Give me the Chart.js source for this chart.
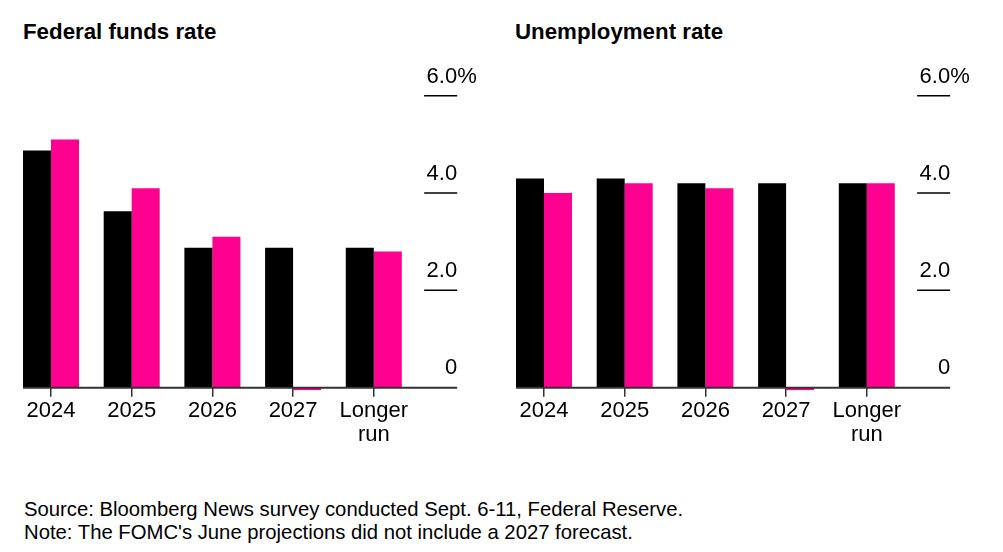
<!DOCTYPE html>
<html>
<head>
<meta charset="utf-8">
<script src="https://cdn.jsdelivr.net/npm/chart.js@4.4.1/dist/chart.umd.min.js"></script>
<style>
	body { margin: 0; background: #fff; font-family: "Liberation Sans", Arial, sans-serif; color: #000; }
	#page { position: relative; width: 1003px; height: 552px; overflow: hidden; }
	.title { position: absolute; top: 21px; font-weight: bold; font-size: 22.3px; line-height: 22px; }
	.panel { position: absolute; top: 60px; width: 490px; height: 400px; }
	#notes { position: absolute; left: 24px; top: 498px; font-size: 20.3px; line-height: 23px; }
</style>
</head>
<body>
<div id="page">
	<div class="title" style="left:23px">Federal funds rate</div>
	<div class="title" style="left:515px">Unemployment rate</div>
	<div class="panel" style="left:0"><canvas id="chart-fed" width="490" height="400"></canvas></div>
	<div class="panel" style="left:493px"><canvas id="chart-unemp" width="490" height="400"></canvas></div>
	<div id="notes">Source: Bloomberg News survey conducted Sept. 6-11, Federal Reserve.<br>Note: The FOMC's June projections did not include a 2027 forecast.</div>
</div>
<script>
// data
const CATEGORIES = ['2024', '2025', '2026', '2027', ['Longer', 'run']];
const FED_SURVEY = [4.875, 3.625, 2.875, 2.875, 2.875];
const FED_JUNE = [5.1, 4.1, 3.1, -0.05, 2.8];     // no 2027 in June -> tiny stub
const UNEMP_SURVEY = [4.3, 4.3, 4.2, 4.2, 4.2];
const UNEMP_JUNE = [4.0, 4.2, 4.1, -0.05, 4.2];
const Y_TICKS = [0, 2, 4, 6];
const Y_LABELS = ['0', '2.0', '4.0', '6.0'];
const Y_MIN = 0, Y_MAX = 6;

const BLACK = '#000000';
const PINK = '#ff0090';
const FONT = '"Liberation Sans", Arial, sans-serif';

// right-hand value labels with short rules, plus the baseline
const rightAxisPlugin = {
	id: 'rightAxis',
	afterDatasetsDraw(chart) {
		const { ctx, chartArea, scales: { y } } = chart;
		const x1 = chartArea.right + 10;
		const x2 = chartArea.right + 43;
		const first = chart.getDatasetMeta(0).data[0];
		const y0 = y.getPixelForValue(0);
		ctx.save();
		ctx.strokeStyle = '#333';
		ctx.lineWidth = 2;
		ctx.beginPath();
		ctx.moveTo(first.x - first.width / 2, y0);
		ctx.lineTo(x2, y0);
		ctx.stroke();

		ctx.font = `22px ${FONT}`;
		ctx.fillStyle = '#000';
		ctx.textBaseline = 'alphabetic';
		Y_TICKS.forEach((v, i) => {
			const py = y.getPixelForValue(v);
			if (v !== 0) {
				ctx.strokeStyle = '#000';
				ctx.lineWidth = 1.5;
				ctx.beginPath();
				ctx.moveTo(x1, py);
				ctx.lineTo(x2, py);
				ctx.stroke();
			}
			ctx.textAlign = 'right';
			ctx.fillText(Y_LABELS[i], x2, py - (v === 0 ? 14 : 13));
			if (i === Y_TICKS.length - 1) {
				ctx.textAlign = 'left';
				ctx.fillText('%', x2, py - 13);
			}
		});
		ctx.restore();
	}
};

function makeChart(id, survey, june) {
	return new Chart(document.getElementById(id), {
		type: 'bar',
		data: {
			labels: CATEGORIES,
			datasets: [
				{ label: 'Survey', data: survey, backgroundColor: BLACK, clip: false },
				{ label: 'June', data: june, backgroundColor: PINK, clip: false }
			]
		},
		options: {
			responsive: false,
			animation: false,
			layout: { padding: { left: 10.65, right: 75.85, top: 35.7, bottom: 2.3 } },
			datasets: { bar: { categoryPercentage: 0.694, barPercentage: 1 } },
			plugins: { legend: { display: false }, tooltip: { enabled: false } },
			scales: {
				x: {
					grid: { offset: false, drawOnChartArea: false, drawTicks: true, tickLength: 9, color: '#333', lineWidth: 1.5 },
					border: { display: false },
					ticks: { color: '#000', font: { family: FONT, size: 22, lineHeight: 1.1 }, padding: 2, maxRotation: 0, autoSkip: false },
					afterFit: (s) => { s.height = 70; }
				},
				y: { display: false, min: Y_MIN, max: Y_MAX }
			}
		},
		plugins: [rightAxisPlugin]
	});
}

makeChart('chart-fed', FED_SURVEY, FED_JUNE);
makeChart('chart-unemp', UNEMP_SURVEY, UNEMP_JUNE);
</script>
</body>
</html>
